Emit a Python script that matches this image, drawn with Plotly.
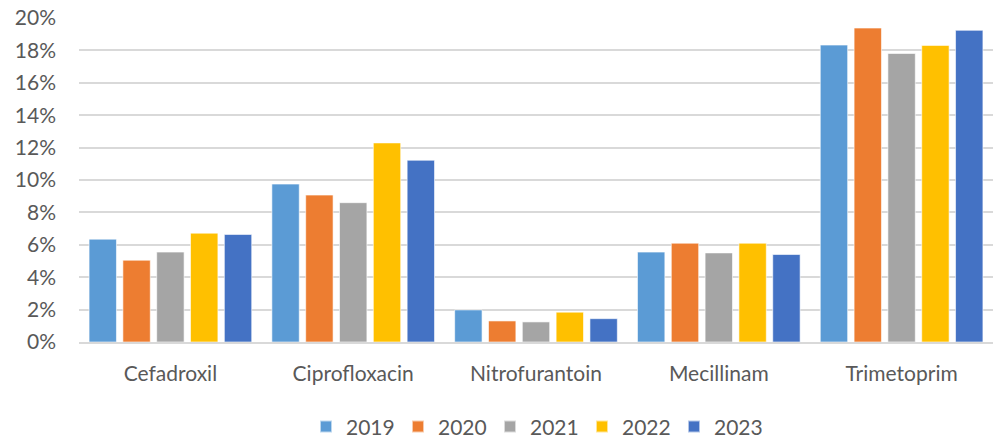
import plotly.graph_objects as go

categories = ["Cefadroxil", "Ciprofloxacin", "Nitrofurantoin", "Mecillinam", "Trimetoprim"]
years = ["2019", "2020", "2021", "2022", "2023"]
v2019 = [0.0635, 0.0975, 0.0198, 0.0555, 0.1833]
v2020 = [0.0505, 0.0907, 0.0130, 0.0610, 0.1938]
v2021 = [0.0555, 0.0860, 0.0124, 0.0550, 0.1781]
v2022 = [0.0672, 0.1229, 0.0184, 0.0610, 0.1831]
v2023 = [0.0664, 0.1122, 0.0144, 0.0540, 0.1924]
colors = ["#5B9BD5", "#ED7D31", "#A5A5A5", "#FFC000", "#4472C4"]

series = [v2019, v2020, v2021, v2022, v2023]

fig = go.Figure()
for y, vals, c in zip(years, series, colors):
    fig.add_trace(go.Bar(
        x=categories, y=vals, name=y,
        marker=dict(color=c, line=dict(color="rgba(255,255,255,0.6)", width=1)),
    ))

font_family = "Lato, 'Open Sans', sans-serif"
fig.update_layout(
    width=994, height=439,
    margin=dict(l=79, r=1, t=18, b=97, autoexpand=False),
    paper_bgcolor="white", plot_bgcolor="white",
    barmode="group", bargap=0.075, bargroupgap=0.19,
    font=dict(family=font_family, size=21, color="#595959"),
    showlegend=True,
    legend=dict(
        orientation="h", x=0.5, xanchor="center", y=-0.262, yanchor="middle",
        font=dict(size=21, color="#595959"),
        itemsizing="constant", entrywidth=47, entrywidthmode="pixels",
    ),
    xaxis=dict(
        automargin=False,
        showgrid=False, showline=True, linecolor="#D9D9D9", linewidth=1.5,
        ticks="", ticklabelstandoff=12, tickfont=dict(size=21, color="#595959"),
    ),
    yaxis=dict(
        automargin=False,
        range=[0, 0.2], dtick=0.02, tickformat=".0%",
        showgrid=True, gridcolor="#D9D9D9", gridwidth=1.5,
        zeroline=False, showline=False, ticks="",
        ticklabelstandoff=22, tickfont=dict(size=21, color="#595959"),
    ),
)

fig.write_html(
    "out.html",
    config={"displayModeBar": False},
    post_script="document.body.style.margin='0';document.body.style.overflow='hidden';",
)
